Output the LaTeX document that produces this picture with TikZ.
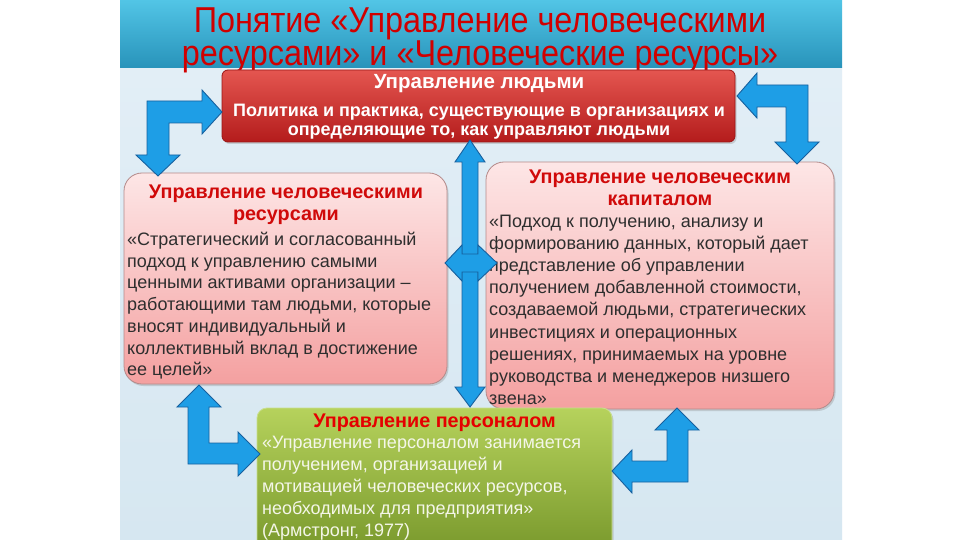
\documentclass[tikz,border=0pt]{standalone}
\usepackage{fontspec}
\setmainfont{Liberation Sans}
\newfontfamily\narrowfont[FakeStretch=0.9]{Liberation Sans}
\usetikzlibrary{shadows}
\definecolor{bandtop}{HTML}{52C5E6}
\definecolor{bandbot}{HTML}{2893BA}
\definecolor{bgtop}{HTML}{E2EEF6}
\definecolor{bgbot}{HTML}{D6E7F1}
\definecolor{titlered}{HTML}{D00000}
\definecolor{redtop}{HTML}{E45650}
\definecolor{redbot}{HTML}{B41C1C}
\definecolor{rededge}{HTML}{9A1515}
\definecolor{pinktop}{HTML}{FDE6E6}
\definecolor{pinkbot}{HTML}{F4A0A0}
\definecolor{pinkedge}{HTML}{B48A8A}
\definecolor{greentop}{HTML}{B6D25C}
\definecolor{greenbot}{HTML}{76962A}
\definecolor{greenedge}{HTML}{C9DF8E}
\definecolor{headred}{HTML}{D00A0A}
\definecolor{bodygray}{HTML}{2E2E2E}
\definecolor{greentext}{HTML}{F4F6E8}
\definecolor{arrowfill}{HTML}{1E9EE6}
\definecolor{arrowedge}{HTML}{17609E}
\begin{document}
\begin{tikzpicture}[x=1pt,y=-1pt,
  box/.style={inner sep=0pt, outer sep=0pt, anchor=north west, line width=0.8pt,
    drop shadow={shadow xshift=1.5pt, shadow yshift=-2pt, opacity=0.3}},
  redbox/.style={box, draw=rededge, top color=redtop, bottom color=redbot, rounded corners=6pt},
  pinkbox/.style={box, draw=pinkedge, top color=pinktop, bottom color=pinkbot, rounded corners=18pt},
  greenbox/.style={box, draw=greenedge, top color=greentop, bottom color=greenbot, rounded corners=10pt},
  headtxt/.style={inner sep=0pt, anchor=base, text=headred, font=\bfseries\fontsize{19.8}{22}\selectfont},
  bodytxt/.style={inner sep=0pt, anchor=north west, align=left, text=bodygray, font=\fontsize{18}{22.2}\selectfont},
  whitetxt/.style={inner sep=0pt, anchor=base, text=white, font=\bfseries\fontsize{18}{19}\selectfont},
  titletxt/.style={inner sep=0pt, anchor=north, align=center, text=titlered, font=\narrowfont\fontsize{36}{30}\selectfont},
  bluearrow/.style={fill=arrowfill, draw=arrowedge, line width=0.9pt, line join=miter}
]
\useasboundingbox (0,0) rectangle (960,540);
\fill[white] (0,0) rectangle (960,540);
\shade[top color=bgtop, bottom color=bgbot] (120,68) rectangle (842,540);
\shade[top color=bandtop, bottom color=bandbot] (120,0) rectangle (842,68);

% title
\node[titletxt] (title) at (480,7.2) {Понятие «Управление человеческими\\ресурсами» и «Человеческие ресурсы»};

% boxes
\node[redbox, minimum width=513pt, minimum height=72pt] (hr) at (222,70) {};
\node[pinkbox, minimum width=323pt, minimum height=211pt] (hrm) at (124,173) {};
\node[pinkbox, minimum width=348pt, minimum height=247pt] (hcm) at (486,162) {};
\node[greenbox, minimum width=355pt, minimum height=150pt] (pm) at (257,408) {};

% red box text
\node[whitetxt, font=\bfseries\fontsize{20.5}{22}\selectfont] (hrt) at (479,89) {Управление людьми};
\node[whitetxt] (hrb1) at (479,117) {Политика и практика, существующие в организациях и};
\node[whitetxt] (hrb2) at (479,136) {определяющие то, как управляют людьми};

% left box text
\node[headtxt] (hrmt1) at (286,198) {Управление человеческими};
\node[headtxt] (hrmt2) at (286,220) {ресурсами};
\node[bodytxt, font=\fontsize{18}{21.7}\selectfont] (hrmb) at (127,232) {«Стратегический и согласованный\\подход к управлению самыми\\ценными активами организации –\\работающими там людьми, которые\\вносят индивидуальный и\\коллективный вклад в достижение\\ее целей»};

% right box text
\node[headtxt] (hcmt1) at (660,183) {Управление человеческим};
\node[headtxt] (hcmt2) at (660,205) {капиталом};
\node[bodytxt] (hcmb) at (489,214.5) {«Подход к получению, анализу и\\формированию данных, который дает\\представление об управлении\\получением добавленной стоимости,\\создаваемой людьми, стратегических\\инвестициях и операционных\\решениях, принимаемых на уровне\\руководства и менеджеров низшего\\звена»};

% green box text
\node[headtxt, text=red!90!black] (pmt) at (434.5,427) {Управление персоналом};
\node[bodytxt, text=greentext, font=\fontsize{18}{22}\selectfont] (pmb) at (262,436) {«Управление персоналом занимается\\получением, организацией и\\мотивацией человеческих ресурсов,\\необходимых для предприятия»\\(Армстронг, 1977)};

% arrows
\draw[bluearrow] (147,101) -- (202,101) -- (202,90) -- (222,112) -- (202,134) -- (202,123) -- (169,123) -- (169,155) -- (180,155) -- (158,176) -- (136,155) -- (147,155) -- cycle;
\draw[bluearrow] (808,85) -- (757,85) -- (757,73) -- (737,96) -- (757,118) -- (757,107) -- (786,107) -- (786,142) -- (775,142) -- (797,164) -- (819,142) -- (808,142) -- cycle;
\draw[bluearrow] (188,407) -- (177,407) -- (199,385) -- (221,407) -- (209,407) -- (209,443) -- (238,443) -- (238,432) -- (260,454) -- (238,476) -- (238,464) -- (188,464) -- cycle;
\draw[bluearrow] (688,482) -- (632,482) -- (632,493) -- (612,471) -- (632,450) -- (632,461) -- (667,461) -- (667,430) -- (655,430) -- (677,408) -- (699,430) -- (688,430) -- cycle;
\draw[bluearrow] (470,140) -- (485,162) -- (478,162) -- (478,387) -- (485,387) -- (470,407) -- (455,387) -- (462,387) -- (462,162) -- (455,162) -- cycle;
\draw[bluearrow] (445,263) -- (462,245) -- (462,254) -- (478,254) -- (478,245) -- (497,263) -- (478,281) -- (478,272) -- (462,272) -- (462,281) -- cycle;
\end{tikzpicture}
\end{document}
